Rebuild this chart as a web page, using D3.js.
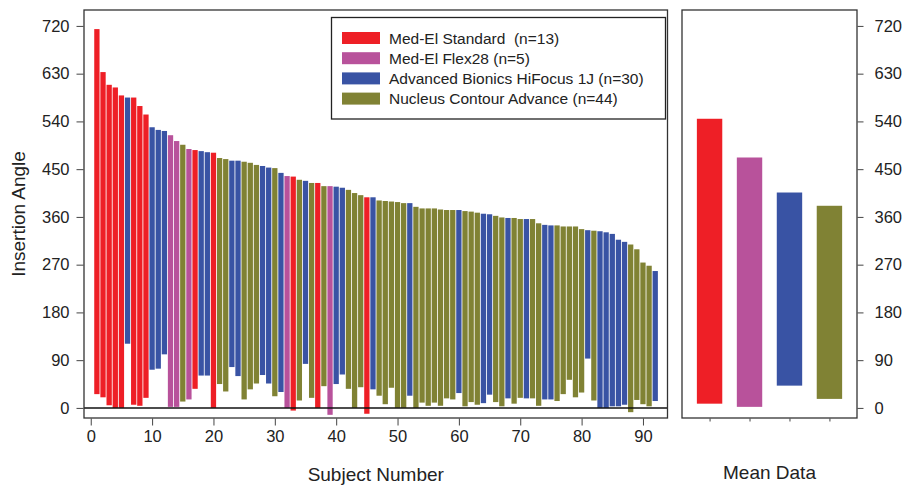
<!DOCTYPE html>
<html>
<head>
<meta charset="utf-8">
<script src="https://cdn.jsdelivr.net/npm/d3@7"></script>
<style>
  body { margin: 0; background: #fff; }
  text { font-family: "Liberation Sans", Arial, sans-serif; fill: #222; white-space: pre; }
  .tick line { stroke: #444; }
</style>
</head>
<body>
<div id="chart"></div>
<script>
// device groups (legend order)
var deviceNames = ["Med-El Standard  (n=13)", "Med-El Flex28 (n=5)", "Advanced Bionics HiFocus 1J (n=30)", "Nucleus Contour Advance (n=44)"];

// device of each subject, sorted by insertion angle (0 = Med-El Std, 1 = Flex28, 2 = AB, 3 = Nucleus)
var subjectDevice = [0,0,0,0,0,2,0,0,0,2, 2,2,1,1,3,1,0,2,2,0, 3,3,2,2,3,3,3,2,2,3,
  2,1,0,3,2,3,0,3,1,2, 2,3,3,3,0,2,3,3,3,3, 3,2,3,3,3,3,3,3,3,2,
  3,3,3,2,2,3,3,2,3,3, 2,3,3,2,2,3,3,3,3,3, 2,3,2,2,2,2,2,3,3,3, 3,2];

// top and bottom of each bar (degrees)
var angleTop = [714,633,609,604,589,585,585,569,553,529, 524,522,514,503,496,488,486,484,482,481,
  471,469,466,466,464,462,458,456,453,452, 443,437,436,430,428,424,424,418,418,417,
  415,411,405,401,397,397,391,390,389,388, 386,386,379,376,376,376,374,373,373,373,
  371,370,368,366,365,362,359,358,358,356, 356,356,348,345,344,344,342,342,342,337,
  335,334,333,331,328,317,313,308,299,274, 268,258];
var angleBottom = [26,20,5,0,0,121,6,4,19,72, 74,101,2,2,12,16,36,61,61,0,
  45,31,77,60,16,35,46,62,46,22, 30,0,-5,14,83,19,0,41,-13,45,
  63,36,0,39,-11,35,23,7,38,0, 0,23,0,10,4,10,4,18,16,28,
  3,11,6,9,25,11,3,18,8,19, 18,18,4,16,16,13,26,53,20,29,
  93,14,0,0,3,3,6,-8,15,7, 3,13];

// mean data per device
var meanTop = [545, 472, 406, 381];
var meanBottom = [8, 2, 42, 17];

var yTicks = [0, 90, 180, 270, 360, 450, 540, 630, 720];
var xTicks = [0, 10, 20, 30, 40, 50, 60, 70, 80, 90];

var colors = ["#ee1f26", "#b8529b", "#3953a4", "#808234"];

var svgWidth = 904;
var svgHeight = 486;
var plot = {left: 84, top: 10, right: 667.5, bottom: 418};
var meanBox = {left: 682, right: 857};

var svg = d3.select("#chart")
  .append("svg")
  .attr("width", svgWidth)
  .attr("height", svgHeight);

var yLinear = d3.scaleLinear()
  .domain([-19, 750])
  .range([plot.bottom, plot.top]);

var xLinear = d3.scaleLinear()
  .domain([-1.1, 94])
  .range([plot.left, plot.right]);

var barW = 5.3;
var subjects = angleTop.map((t, i) => ({n: i + 1, top: t, bottom: angleBottom[i], dev: subjectDevice[i]}));

// subject bars
svg.append("g").selectAll("rect")
  .data(subjects)
  .enter()
  .append("rect")
  .attr("x", d => xLinear(d.n) - barW / 2)
  .attr("y", d => yLinear(d.top))
  .attr("width", barW)
  .attr("height", d => yLinear(d.bottom) - yLinear(d.top))
  .attr("fill", d => colors[d.dev]);

// zero line
svg.append("line")
  .attr("x1", plot.left).attr("x2", plot.right)
  .attr("y1", yLinear(0)).attr("y2", yLinear(0))
  .attr("stroke", "#111")
  .attr("stroke-width", 1.5);

// axes
var leftAxis = svg.append("g")
  .attr("transform", `translate(${plot.left - 0.5},0)`)
  .call(d3.axisLeft(yLinear).tickValues(yTicks).tickSize(7).tickPadding(7));
var bottomAxis = svg.append("g")
  .attr("transform", `translate(0,${plot.bottom + 0.5})`)
  .call(d3.axisBottom(xLinear).tickValues(xTicks).tickSize(7).tickPadding(5));
[leftAxis, bottomAxis].forEach(a => {
  a.select(".domain").remove();
  a.selectAll("text").attr("font-size", "16.5px").attr("fill", "#222");
});

svg.append("rect")
  .attr("x", plot.left).attr("y", plot.top)
  .attr("width", plot.right - plot.left)
  .attr("height", plot.bottom - plot.top)
  .attr("fill", "none")
  .attr("stroke", "#333")
  .attr("stroke-width", 1.3);

svg.append("text")
  .attr("transform", `translate(25, ${(plot.top + plot.bottom) / 2}) rotate(-90)`)
  .attr("text-anchor", "middle")
  .attr("font-size", "19px")
  .text("Insertion Angle");

svg.append("text")
  .attr("x", (plot.left + plot.right) / 2)
  .attr("y", 481)
  .attr("text-anchor", "middle")
  .attr("font-size", "19px")
  .text("Subject Number");

// legend
var legend = svg.append("g");
legend.append("rect")
  .attr("x", 331.5).attr("y", 17.5)
  .attr("width", 334).attr("height", 101.5)
  .attr("fill", "#fff")
  .attr("stroke", "#222")
  .attr("stroke-width", 1.3);
var legendRows = legend.selectAll("g.row")
  .data(deviceNames)
  .enter()
  .append("g")
  .attr("transform", (d, i) => `translate(342, ${38 + i * 20.2})`);
legendRows.append("rect")
  .attr("x", 0).attr("y", -6)
  .attr("width", 38).attr("height", 12)
  .attr("fill", (d, i) => colors[i]);
legendRows.append("text")
  .attr("x", 47)
  .attr("dy", "0.36em")
  .attr("font-size", "15.5px")
  .text(d => d);

// mean data panel
var xMean = d3.scalePoint()
  .domain([0, 1, 2, 3])
  .range([meanBox.left, meanBox.right])
  .padding(0.69);
var meanW = 25.4;

svg.append("g").selectAll("rect")
  .data(meanTop)
  .enter()
  .append("rect")
  .attr("x", (d, i) => xMean(i) - meanW / 2)
  .attr("y", d => yLinear(d))
  .attr("width", meanW)
  .attr("height", (d, i) => yLinear(meanBottom[i]) - yLinear(d))
  .attr("fill", (d, i) => colors[i]);

var rightAxis = svg.append("g")
  .attr("transform", `translate(${meanBox.right + 0.5},0)`)
  .call(d3.axisRight(yLinear).tickValues(yTicks).tickSize(6).tickPadding(11));
rightAxis.select(".domain").remove();
rightAxis.selectAll("text").attr("font-size", "16.5px").attr("fill", "#222");

var meanAxis = svg.append("g")
  .attr("transform", `translate(0,${plot.bottom + 0.5})`)
  .call(d3.axisBottom(xMean).tickSize(3).tickFormat(""));
meanAxis.select(".domain").remove();
meanAxis.selectAll("line").attr("stroke", "#999");

svg.append("rect")
  .attr("x", meanBox.left).attr("y", plot.top)
  .attr("width", meanBox.right - meanBox.left)
  .attr("height", plot.bottom - plot.top)
  .attr("fill", "none")
  .attr("stroke", "#333")
  .attr("stroke-width", 1.3);

svg.append("text")
  .attr("x", (meanBox.left + meanBox.right) / 2)
  .attr("y", 479)
  .attr("text-anchor", "middle")
  .attr("font-size", "19px")
  .text("Mean Data");
</script>
</body>
</html>
